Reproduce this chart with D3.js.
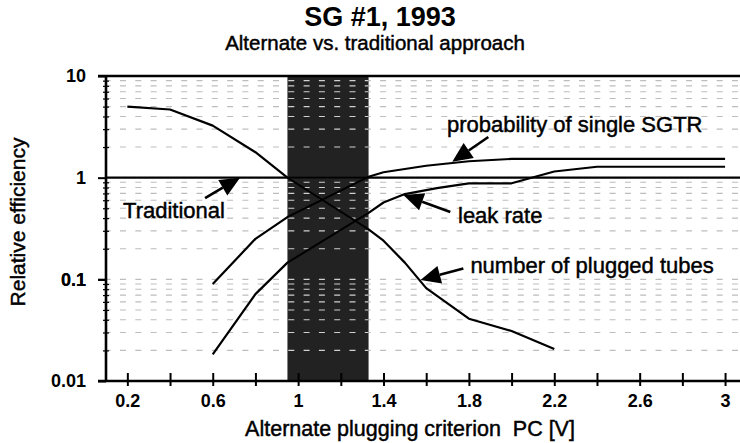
<!DOCTYPE html>
<html>
<head>
<meta charset="utf-8">
<script src="https://cdn.jsdelivr.net/npm/d3@7"></script>
<style>
    body { margin: 0; background: #fff; }
    svg text { font-family: "Liberation Sans", Arial, sans-serif; fill: #000; }
    svg text.heavy { stroke: #000; stroke-width: 0.45px; }
</style>
</head>
<body>
<svg id="chart" width="740" height="443"></svg>
<script>
// ---- chart values ----
var xTickValues = [0.2, 0.4, 0.6, 0.8, 1.0, 1.2, 1.4, 1.6, 1.8, 2.0, 2.2, 2.4, 2.6, 2.8, 3.0];
var xTickLabels = ['0.2', '', '0.6', '', '1', '', '1.4', '', '1.8', '', '2.2', '', '2.6', '', '3'];
var yMajorValues = [0.01, 0.1, 1, 10];
var yTickLabels = ['0.01', '0.1', '1', '10'];

// shaded band = range of the alternate plugging criterion
var bandPC = [0.95, 1.33];
var referenceLevel = 1;

// traditional curve continuing into number of plugged tubes
var tubesPC  = [0.2, 0.4, 0.6, 0.8, 0.95, 1.33, 1.4, 1.5, 1.6, 1.8, 2.0, 2.2];
var tubesEff = [5.0, 4.68, 3.25, 1.78, 1.0, 0.31, 0.24, 0.146, 0.082, 0.041, 0.031, 0.0206];

// probability of single SGTR
var sgtrPC  = [0.6, 0.8, 0.95, 1.33, 1.4, 1.6, 1.8, 2.0, 2.4, 3.0];
var sgtrEff = [0.09, 0.25, 0.41, 1.02, 1.13, 1.31, 1.45, 1.53, 1.53, 1.53];

// leak rate
var leakPC  = [0.6, 0.8, 0.95, 1.33, 1.4, 1.5, 1.65, 1.8, 2.0, 2.2, 2.4, 3.0];
var leakEff = [0.0183, 0.0715, 0.146, 0.45, 0.57, 0.69, 0.79, 0.88, 0.88, 1.15, 1.28, 1.28];

// annotations: text anchor, arrow tail, arrow tip (all in data units)
var noteText = ['Traditional', 'probability of single SGTR', 'leak rate', 'number of plugged tubes'];
var noteAt   = [[0.18, 0.40], [1.697, 2.84], [1.749, 0.356], [1.807, 0.115]];
var noteFrom = [[0.564, 0.63], [1.891, 2.51], [1.713, 0.46], [1.774, 0.128]];
var noteTo   = [[0.728, 1.0], [1.722, 1.43], [1.493, 0.676], [1.573, 0.0986]];

(function (d3) {
    var svg = d3.select('#chart'),
        left = 106, right = 740, top = 76, bottom = 381;

    var x = d3.scaleLinear().domain([0.1, 3.07]).range([left, right]),
        y = d3.scaleLog().domain([0.01, 10]).range([bottom, top]);

    // minor grid values 0.01..9
    var gridValues = [];
    [0.01, 0.1, 1].forEach(function (dec) {
        d3.range(1, 10).forEach(function (k) {
            var v = +(dec * k).toPrecision(3);
            if (v !== 0.01 && v !== 1) { gridValues.push(v); }
        });
    });

    var defs = svg.append('defs');
    defs.append('clipPath').attr('id', 'plotClip').append('rect')
        .attr('x', left).attr('y', top).attr('width', right - left).attr('height', bottom - top);
    defs.append('clipPath').attr('id', 'bandClip').append('rect')
        .attr('x', x(bandPC[0])).attr('y', top)
        .attr('width', x(bandPC[1]) - x(bandPC[0])).attr('height', bottom - top);

    var plot = svg.append('g').attr('clip-path', 'url(#plotClip)');

    function drawGrid(g, color) {
        g.selectAll('line.grid').data(gridValues).enter().append('line')
            .attr('class', 'grid')
            .attr('x1', left).attr('x2', right)
            .attr('y1', function (d) { return y(d); })
            .attr('y2', function (d) { return y(d); })
            .attr('stroke', color)
            .attr('stroke-width', 1.1)
            .attr('stroke-dasharray', '6 9.3')
            .attr('stroke-dashoffset', 1.3);
    }

    drawGrid(plot, '#bdbdbd');

    // dark band
    plot.append('rect')
        .attr('x', x(bandPC[0])).attr('y', top)
        .attr('width', x(bandPC[1]) - x(bandPC[0]))
        .attr('height', bottom - top)
        .attr('fill', '#222');

    var bandG = plot.append('g').attr('clip-path', 'url(#bandClip)');
    drawGrid(bandG, '#d0d0d0');

    var line = d3.line()
        .x(function (d) { return x(d[0]); })
        .y(function (d) { return y(d[1]); });

    var series = [d3.zip(tubesPC, tubesEff), d3.zip(sgtrPC, sgtrEff), d3.zip(leakPC, leakEff)];

    // reference line at 1
    plot.append('line')
        .attr('x1', left).attr('x2', right)
        .attr('y1', y(referenceLevel)).attr('y2', y(referenceLevel))
        .attr('stroke', '#000').attr('stroke-width', 2.2);

    plot.selectAll('path.curve').data(series).enter().append('path')
        .attr('class', 'curve')
        .attr('d', line)
        .attr('fill', 'none')
        .attr('stroke', '#000')
        .attr('stroke-width', 2.2)
        .attr('stroke-linejoin', 'round');

    // curves show up a little lighter where they cross the band
    bandG.append('line')
        .attr('x1', left).attr('x2', right)
        .attr('y1', y(referenceLevel)).attr('y2', y(referenceLevel))
        .attr('stroke', '#555').attr('stroke-width', 2);
    bandG.selectAll('path.inband').data(series).enter().append('path')
        .attr('class', 'inband')
        .attr('d', line)
        .attr('fill', 'none')
        .attr('stroke', '#666')
        .attr('stroke-width', 1.6);

    // x axis
    var xAxis = d3.axisBottom(x)
        .tickValues(xTickValues)
        .tickSize(5)
        .tickPadding(8)
        .tickFormat(function (d, i) { return xTickLabels[i]; });
    var gx = svg.append('g').attr('transform', 'translate(0,' + bottom + ')').call(xAxis);
    gx.select('.domain').remove();
    gx.selectAll('.tick line').attr('y1', -8).attr('stroke', '#000').attr('stroke-width', 2);
    gx.selectAll('.tick text')
        .attr('font-size', 18).attr('font-weight', 'bold')
        .attr('font-family', null);

    // y axis
    var yAxis = d3.axisLeft(y)
        .tickValues(yMajorValues.concat(gridValues))
        .tickSize(8)
        .tickPadding(12)
        .tickFormat(function (d) {
            var i = yMajorValues.indexOf(d);
            return i < 0 ? '' : yTickLabels[i];
        });
    var gy = svg.append('g').attr('transform', 'translate(' + left + ',0)').call(yAxis);
    gy.select('.domain').remove();
    gy.selectAll('.tick line')
        .attr('stroke', '#000')
        .attr('stroke-width', function (d) { return yMajorValues.indexOf(d) < 0 ? 1.2 : 2; })
        .attr('x1', function (d) { return yMajorValues.indexOf(d) < 0 ? 3 : 0; })
        .attr('x2', function (d) { return yMajorValues.indexOf(d) < 0 ? -3 : -8; });
    gy.selectAll('.tick text')
        .attr('font-size', 18).attr('font-weight', 'bold')
        .attr('font-family', null);

    // frame lines
    svg.append('line').attr('x1', left).attr('x2', left).attr('y1', top - 1).attr('y2', bottom + 1)
        .attr('stroke', '#000').attr('stroke-width', 2.6);
    svg.append('line').attr('x1', left - 8).attr('x2', right).attr('y1', bottom).attr('y2', bottom)
        .attr('stroke', '#000').attr('stroke-width', 2.6);
    svg.append('line').attr('x1', left - 8).attr('x2', right).attr('y1', top).attr('y2', top)
        .attr('stroke', '#000').attr('stroke-width', 2.6);

    // titles
    svg.append('text').attr('x', 380).attr('y', 26).attr('text-anchor', 'middle')
        .attr('font-size', 27).attr('font-weight', 'bold').text('SG #1, 1993');
    svg.append('text').attr('class', 'heavy').attr('x', 375).attr('y', 50).attr('text-anchor', 'middle')
        .attr('font-size', 20.5).text('Alternate vs. traditional approach');
    svg.append('text').attr('class', 'heavy').attr('x', 410).attr('y', 436).attr('text-anchor', 'middle')
        .attr('font-size', 21.5).style('white-space', 'pre')
        .text('Alternate plugging criterion  PC [V]');
    svg.append('text').attr('class', 'heavy').attr('transform', 'translate(25,222) rotate(-90)')
        .attr('text-anchor', 'middle').attr('font-size', 21)
        .text('Relative efficiency');

    // annotations with arrows
    var notes = svg.append('g');
    noteText.forEach(function (t, i) {
        var x0 = x(noteFrom[i][0]), y0 = y(noteFrom[i][1]),
            x1 = x(noteTo[i][0]), y1 = y(noteTo[i][1]),
            len = Math.sqrt((x1 - x0) * (x1 - x0) + (y1 - y0) * (y1 - y0)),
            ux = (x1 - x0) / len, uy = (y1 - y0) / len,
            headL = 20, headW = 9,
            bx = x1 - ux * headL, by = y1 - uy * headL;

        notes.append('line')
            .attr('x1', x0).attr('y1', y0).attr('x2', bx).attr('y2', by)
            .attr('stroke', '#000').attr('stroke-width', 2.6);
        notes.append('path')
            .attr('d', 'M' + x1 + ',' + y1 +
                'L' + (bx - uy * headW) + ',' + (by + ux * headW) +
                'L' + (bx + uy * headW) + ',' + (by - ux * headW) + 'Z')
            .attr('fill', '#000');
        notes.append('text')
            .attr('class', 'heavy')
            .attr('x', x(noteAt[i][0])).attr('y', y(noteAt[i][1]))
            .attr('font-size', 22)
            .text(t);
    });
}(window.d3));
</script>
</body>
</html>
